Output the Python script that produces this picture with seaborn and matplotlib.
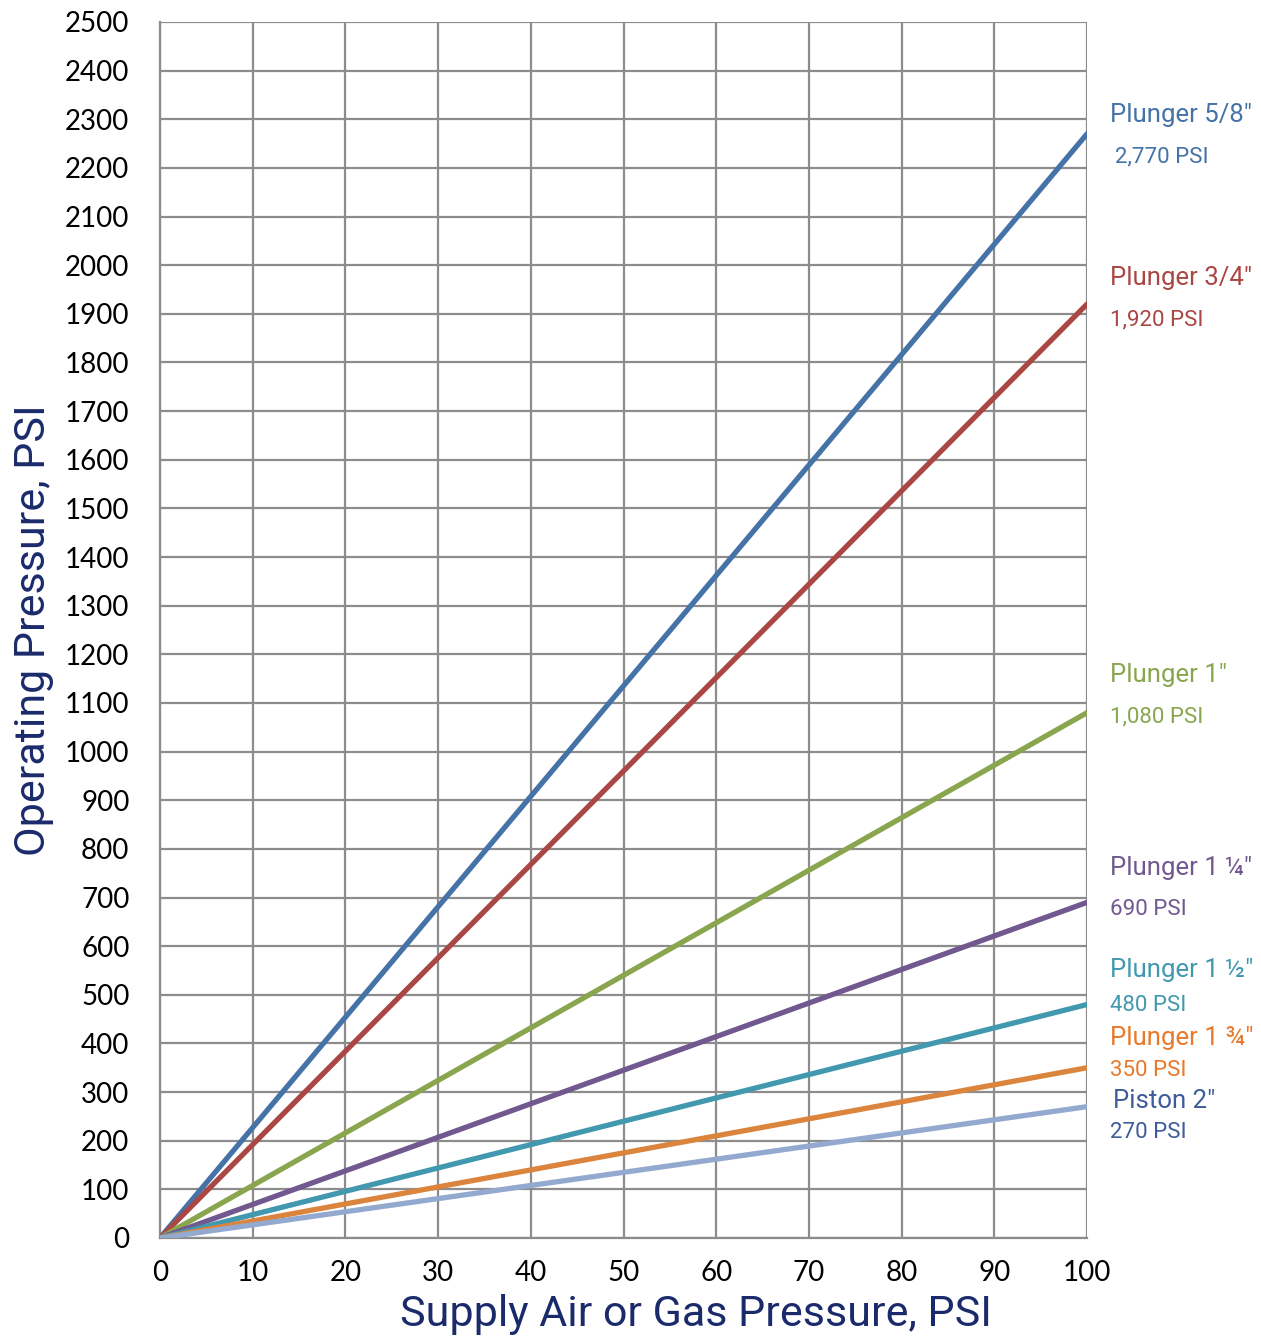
import matplotlib
matplotlib.use("Agg")
import matplotlib.pyplot as plt
import seaborn as sns
import pandas as pd
from matplotlib.ticker import MultipleLocator

series = ['Plunger 5/8"', 'Plunger 3/4"', 'Plunger 1"', 'Plunger 1 ¼"',
          'Plunger 1 ½"', 'Plunger 1 ¾"', 'Piston 2"']
supply = [0, 100]
end_values = [2270, 1920, 1080, 690, 480, 350, 270]
start_values = [0, 0, 0, 0, 0, 0, 0]
psi_labels = ['2,770 PSI', '1,920 PSI', '1,080 PSI', '690 PSI', '480 PSI', '350 PSI', '270 PSI']
line_colors = ['#4572A7', '#AA4643', '#89A54E', '#71588F', '#4198AF', '#DB843D', '#93A9CF']
text_colors = ['#4572A7', '#AA4643', '#89A54E', '#71588F', '#4198AF', '#E8792A', '#3D5C99']
# label positions (data coords)
name_pos = [(102.5, 2309), (102.5, 1974), (102.5, 1158), (102.5, 761), (102.5, 551), (102.5, 411), (102.8, 282)]
psi_pos = [(103.0, 2222), (102.5, 1887), (102.5, 1071), (102.5, 675), (102.5, 479), (102.5, 345), (102.5, 216)]

rows = []
for s, a, b in zip(series, start_values, end_values):
    rows.append({'series': s, 'x': supply[0], 'y': a})
    rows.append({'series': s, 'x': supply[1], 'y': b})
df = pd.DataFrame(rows)

sns.set_theme(style="white")
narrow = ['Roboto', 'DejaVu Sans']
plt.rcParams['font.family'] = ['Lato', 'DejaVu Sans']

fig = plt.figure(figsize=(12.61, 13.44), dpi=100)
ax = fig.add_axes([160/1261, 1 - 1238/1344, 927/1261, 1216/1344])

sns.lineplot(data=df, x='x', y='y', hue='series', hue_order=series,
             palette=dict(zip(series, line_colors)), linewidth=3.8,
             legend=False, ax=ax, zorder=3)

ax.set_xlim(0, 100)
ax.set_ylim(0, 2500)
ax.xaxis.set_major_locator(MultipleLocator(10))
ax.xaxis.set_minor_locator(MultipleLocator(5))
ax.yaxis.set_major_locator(MultipleLocator(100))
ax.yaxis.set_minor_locator(MultipleLocator(20))
ax.grid(True, which='major', color='#8C8C8C', linewidth=1.6, zorder=0)
ax.set_axisbelow(True)
for side in ['top', 'right']:
    ax.spines[side].set_visible(False)
for side in ['left', 'bottom']:
    ax.spines[side].set_color('#8C8C8C')
    ax.spines[side].set_linewidth(1.6)
ax.tick_params(axis='both', which='major', direction='out', length=9, width=1.6,
               color='#8C8C8C', labelsize=20, labelcolor='black', pad=13)
ax.tick_params(axis='both', which='minor', direction='out', length=6, width=1.2,
               color='#8C8C8C')
ax.tick_params(axis='x', which='major', pad=7)

ax.set_xlabel('Supply Air or Gas Pressure, PSI', fontsize=31, color='#1B2A6B',
              family=narrow)
ax.xaxis.set_label_coords((696 - 160) / 927, -56 / 1216)
ax.set_ylabel('Operating Pressure, PSI', fontsize=31, color='#1B2A6B',
              family=narrow)
ax.yaxis.set_label_coords(-106 / 927, 0.5)

for i in range(len(series)):
    ax.text(name_pos[i][0], name_pos[i][1], series[i], color=text_colors[i],
            fontsize=18.5, family=narrow, va='center', ha='left', clip_on=False)
    ax.text(psi_pos[i][0], psi_pos[i][1], psi_labels[i], color=text_colors[i],
            fontsize=16, family=narrow, va='center', ha='left', clip_on=False)

fig.savefig('out.png', dpi=100)
